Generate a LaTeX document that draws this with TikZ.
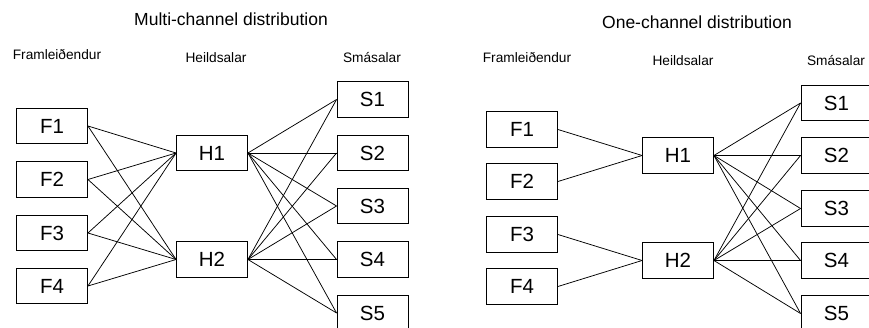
\documentclass[tikz,border=0pt]{standalone}
\usepackage{fontspec}
\setmainfont{Liberation Sans}
\begin{document}
\begin{tikzpicture}[x=1pt,y=-1pt,
  box/.style={draw=black,line width=0.9pt,minimum width=71pt,minimum height=35.5pt,inner sep=0pt,font=\fontsize{20.5}{22}\selectfont},
  lbl/.style={anchor=base,inner sep=0pt,font=\fontsize{13.7}{15}\selectfont},
  ttl/.style={anchor=base,inner sep=0pt,font=\fontsize{17.5}{19}\selectfont},
  conn/.style={line width=0.75pt}]
\clip (0,0) rectangle (869,328);
% ---------- Left: multi-channel ----------
\node[ttl] (t1) at (231,26) {Multi-channel distribution};
\node[lbl] (lf1) at (57,60) {Framleiðendur};
\node[lbl] (lh1) at (216,62.7) {Heildsalar};
\node[lbl] (ls1) at (372,62.7) {Smásalar};
\node[box] (aF1) at (52,126) {F1};
\node[box] (aF2) at (52,179.5) {F2};
\node[box] (aF3) at (52,233) {F3};
\node[box] (aF4) at (52,286) {F4};
\node[box] (aH1) at (212,153) {H1};
\node[box] (aH2) at (212,259.5) {H2};
\node[box] (aS1) at (372.5,99.5) {S1};
\node[box] (aS2) at (372.5,153) {S2};
\node[box] (aS3) at (372.5,206) {S3};
\node[box] (aS4) at (372.5,259.5) {S4};
\node[box] (aS5) at (372.5,313) {S5};
\foreach \f in {1,2,3,4}{
  \foreach \h in {1,2}{
    \draw[conn] (aF\f.east) -- (aH\h.west);
  }
}
\foreach \h in {1,2}{
  \foreach \s in {1,2,3,4,5}{
    \draw[conn] (aH\h.east) -- (aS\s.west);
  }
}
% ---------- Right: one-channel ----------
\node[ttl] (t2) at (697,29) {One-channel distribution};
\node[lbl] (lf2) at (527,63) {Framleiðendur};
\node[lbl] (lh2) at (683,65.7) {Heildsalar};
\node[lbl] (ls2) at (836,65.7) {Smásalar};
\node[box] (bF1) at (522,129.5) {F1};
\node[box] (bF2) at (522,181.5) {F2};
\node[box] (bF3) at (522,234.5) {F3};
\node[box] (bF4) at (522,286.5) {F4};
\node[box] (bH1) at (678,155.5) {H1};
\node[box] (bH2) at (678,260.5) {H2};
\node[box] (bS1) at (836.5,103) {S1};
\node[box] (bS2) at (836.5,155.5) {S2};
\node[box] (bS3) at (836.5,208.5) {S3};
\node[box] (bS4) at (836.5,260.5) {S4};
\node[box] (bS5) at (836.5,313.5) {S5};
\draw[conn] (bF1.east) -- (bH1.west);
\draw[conn] (bF2.east) -- (bH1.west);
\draw[conn] (bF3.east) -- (bH2.west);
\draw[conn] (bF4.east) -- (bH2.west);
\foreach \h in {1,2}{
  \foreach \s in {1,2,3,4,5}{
    \draw[conn] (bH\h.east) -- (bS\s.west);
  }
}
\end{tikzpicture}
\end{document}
